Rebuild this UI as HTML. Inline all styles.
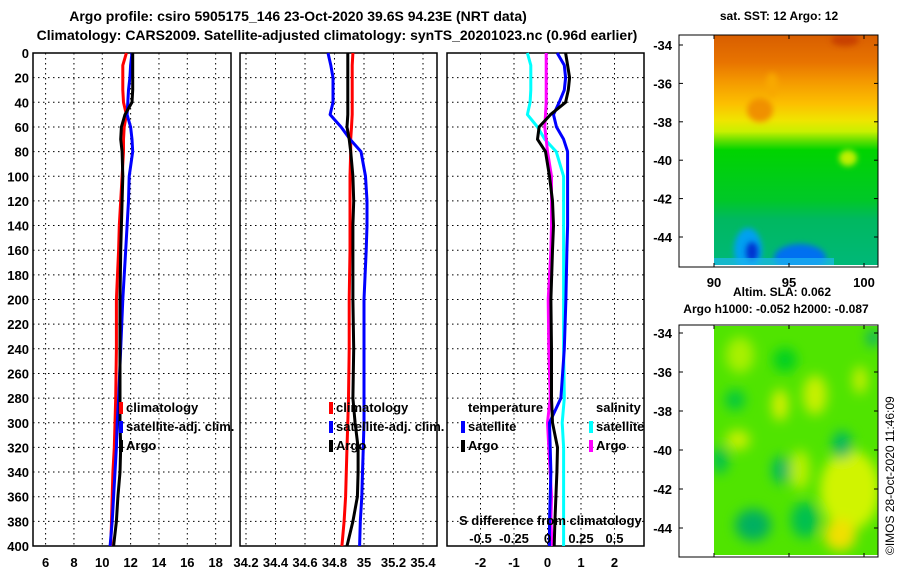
<!DOCTYPE html>
<html><head><meta charset="utf-8"><style>
html,body{margin:0;padding:0;background:#fff;}
svg{display:block;font-family:"Liberation Sans",sans-serif;font-weight:bold;}
</style></head><body>
<svg id="s" width="900" height="580" viewBox="0 0 900 580" xmlns="http://www.w3.org/2000/svg">
<defs>
<filter id="bl" x="-50%" y="-50%" width="200%" height="200%"><feGaussianBlur stdDeviation="6"/></filter>
<filter id="bl2" x="-50%" y="-50%" width="200%" height="200%"><feGaussianBlur stdDeviation="3"/></filter>
<clipPath id="c1"><rect x="714" y="35" width="164" height="230"/></clipPath>
<clipPath id="c2"><rect x="714" y="326" width="164" height="229"/></clipPath>
<linearGradient id="g1" x1="0" y1="0" x2="0" y2="1">
<stop offset="0" stop-color="#d85e00"/><stop offset="0.12" stop-color="#e87400"/>
<stop offset="0.2" stop-color="#f49800"/><stop offset="0.3" stop-color="#fcc000"/>
<stop offset="0.37" stop-color="#f0e400"/><stop offset="0.42" stop-color="#c8f000"/>
<stop offset="0.46" stop-color="#60e000"/><stop offset="0.5" stop-color="#00d400"/>
<stop offset="0.72" stop-color="#00c828"/><stop offset="0.8" stop-color="#00b860"/>
<stop offset="1" stop-color="#00b878"/></linearGradient>
</defs>
<text x="298" y="21" font-size="14" text-anchor="middle">Argo profile: csiro 5905175_146 23-Oct-2020 39.6S 94.23E (NRT data)</text>
<text x="337" y="40" font-size="14" text-anchor="middle">Climatology: CARS2009. Satellite-adjusted climatology: synTS_20201023.nc (0.96d earlier)</text>
<g id="panels"></g>
<!-- map 1 -->
<g>
<text x="779" y="20" font-size="12" text-anchor="middle">sat. SST: 12 Argo: 12</text>
<g clip-path="url(#c1)">
<rect x="714" y="35" width="164" height="230" fill="url(#g1)"/>
<ellipse cx="760" cy="110" rx="13" ry="12" fill="#f09000" filter="url(#bl2)"/>
<ellipse cx="772" cy="85" rx="6" ry="12" fill="#f8a800" filter="url(#bl2)"/>
<ellipse cx="845" cy="40" rx="14" ry="6" fill="#c84000" filter="url(#bl2)"/>
<ellipse cx="848" cy="158" rx="9" ry="8" fill="#c0f000" filter="url(#bl2)"/>
<ellipse cx="748" cy="250" rx="14" ry="22" fill="#00a0f0" filter="url(#bl2)"/>
<ellipse cx="800" cy="258" rx="26" ry="14" fill="#0070f0" filter="url(#bl2)"/>
<ellipse cx="752" cy="252" rx="6" ry="10" fill="#0030d0" filter="url(#bl2)"/>
<rect x="714" y="258" width="120" height="7" fill="#20b8f0" opacity="0.7"/>
</g>
<rect x="679" y="35" width="199" height="232" fill="none" stroke="#000"/>
</g>
<!-- map 2 -->
<g>
<text x="782" y="296" font-size="12" text-anchor="middle">Altim. SLA: 0.062</text>
<text x="776" y="313" font-size="12" text-anchor="middle">Argo h1000: -0.052 h2000: -0.087</text>
<g clip-path="url(#c2)">
<rect x="714" y="326" width="164" height="229" fill="#50e400"/>
<g filter="url(#bl)">
<ellipse cx="740" cy="355" rx="14" ry="18" fill="#a8f000"/>
<ellipse cx="780" cy="405" rx="8" ry="16" fill="#d8f000"/>
<ellipse cx="815" cy="395" rx="12" ry="20" fill="#c8f000"/>
<ellipse cx="860" cy="380" rx="7" ry="14" fill="#c8f000"/>
<ellipse cx="738" cy="440" rx="12" ry="10" fill="#c8f000"/>
<ellipse cx="850" cy="490" rx="30" ry="40" fill="#d0f400"/>
<ellipse cx="840" cy="535" rx="16" ry="16" fill="#f0e000"/>
<ellipse cx="800" cy="470" rx="10" ry="20" fill="#b8f000"/>
<ellipse cx="735" cy="400" rx="10" ry="10" fill="#00c840"/>
<ellipse cx="785" cy="360" rx="12" ry="12" fill="#00d020"/>
<ellipse cx="842" cy="445" rx="10" ry="14" fill="#00b860"/>
<ellipse cx="781" cy="470" rx="9" ry="14" fill="#00b860"/>
<ellipse cx="720" cy="460" rx="8" ry="14" fill="#00c050"/>
<ellipse cx="753" cy="525" rx="18" ry="16" fill="#00b060"/>
<ellipse cx="805" cy="520" rx="14" ry="18" fill="#00c050"/>
<ellipse cx="873" cy="338" rx="6" ry="8" fill="#00a880"/>
</g>
</g>
<rect x="679" y="325" width="199" height="232" fill="none" stroke="#000"/>
</g>
<text transform="translate(894,555) rotate(-90)" font-size="12" font-weight="normal">©IMOS 28-Oct-2020 11:46:09</text>
<g id="mapaxes"></g>
</svg>
<script>
const depths=[0,10,20,30,40,50,60,70,80,100,120,140,160,200,240,280,300,320,340,360,380,400];
const tClim=[11.7,11.45,11.45,11.45,11.5,11.7,11.55,11.5,11.5,11.4,11.3,11.2,11.15,11.0,11.0,10.95,10.9,10.85,10.75,10.7,10.65,10.6];
const tSat=[12.1,12.0,11.95,11.85,11.8,11.75,12.0,12.1,12.15,11.9,11.85,11.75,11.65,11.45,11.3,11.15,11.05,11.0,10.9,10.8,10.7,10.55];
const tArgo=[12.15,12.15,12.15,12.15,12.1,11.6,11.35,11.3,11.4,11.45,11.4,11.35,11.3,11.25,11.25,11.25,11.25,11.3,11.25,11.1,11.0,10.8];
const sClim=[34.925,34.92,34.92,34.92,34.92,34.92,34.915,34.91,34.91,34.905,34.905,34.905,34.905,34.9,34.9,34.895,34.89,34.885,34.88,34.875,34.865,34.85];
const sSat=[34.756,34.775,34.79,34.79,34.79,34.77,34.845,34.905,34.98,35.01,35.02,35.02,35.015,35.0,35.0,35.0,35.0,34.995,34.99,34.985,34.975,34.97];
const sArgo=[34.89,34.89,34.89,34.89,34.89,34.89,34.885,34.9,34.91,34.925,34.93,34.925,34.925,34.925,34.93,34.925,34.94,34.96,34.96,34.955,34.925,34.885];
const dTSat=[0.29,0.5,0.54,0.5,0.35,0.18,0.27,0.48,0.6,0.6,0.6,0.6,0.58,0.55,0.5,0.4,0.06,0.08,0.1,0.08,0.06,0.06];
const dTArgo=[0.54,0.6,0.66,0.62,0.54,0.09,-0.25,-0.3,-0.06,0.06,0.15,0.18,0.15,0.1,0.12,0.12,0.15,0.3,0.28,0.25,0.22,0.2];
const dSSat=[-0.15,-0.125,-0.125,-0.125,-0.13,-0.15,-0.075,-0.02,0.065,0.12,0.12,0.12,0.12,0.12,0.12,0.125,0.11,0.12,0.12,0.12,0.12,0.12];
const dSArgo=[-0.01,-0.01,-0.01,-0.01,-0.01,-0.015,-0.02,-0.01,0.0,0.03,0.03,0.03,0.025,0.005,0.01,0.02,0.0,0.01,0.02,0.03,0.025,0.035];
const depthTicks=[0,20,40,60,80,100,120,140,160,180,200,220,240,260,280,300,320,340,360,380,400];
const tTicks=[6,8,10,12,14,16,18];
const sTicks=["34.2","34.4","34.6","34.8","35","35.2","35.4"];
const dTicks=[-2,-1,0,1,2];
const dSTickLabels=["-0.5","-0.25","0","0.25","0.5"];
const dSTickVals=[-0.5,-0.25,0,0.25,0.5];
const latTicks=[-34,-36,-38,-40,-42,-44];
const lonTicks=[90,95,100];

const NS="http://www.w3.org/2000/svg";
const root=document.getElementById('panels');
function mk(tag,attrs,parent){const e=document.createElementNS(NS,tag);for(const k in attrs)e.setAttribute(k,attrs[k]);(parent||root).appendChild(e);return e;}
const Y0=53,Y1=546;
const yS=d=>Y0+d*(Y1-Y0)/400;
const xT=v=>45.6+(v-6)*14.17;
const xS=v=>246+(v-34.2)*147.5;
const xD=v=>547.5+v*33.5;
const xDS=v=>547.5+v*4*33.5;
const panels=[[33,231],[240,437],[447,644]];
panels.forEach((p,i)=>{
  const g=mk('g',{});
  
  
  depthTicks.forEach(d=>{
    const l=mk('line',{x1:p[0],x2:p[1],y1:yS(d),y2:yS(d),stroke:'#000','stroke-dasharray':'1.5 3.5'},g);
    
    
  });
  const xs=i==0?tTicks.map(xT):i==1?sTicks.map(v=>xS(+v)):dTicks.map(xD);
  xs.forEach(x=>{
    const l=mk('line',{x1:x,x2:x,y1:Y0,y2:Y1,stroke:'#000','stroke-dasharray':'1.5 3.5'},g);
    
    
  });
  const r=mk('rect',{x:p[0],y:Y0,width:p[1]-p[0],height:Y1-Y0,fill:'none',stroke:'#000','stroke-width':1.5},g);
  
  
  const labs=i==0?tTicks:i==1?sTicks:dTicks;
  labs.forEach((t,j)=>{
    const tx=mk('text',{x:xs[j],y:567,'font-size':13,'text-anchor':'middle'},g);
    tx.textContent=t;
    
    
  });
});
depthTicks.forEach(d=>{
  const t=mk('text',{x:29,y:yS(d)+5,'font-size':13,'text-anchor':'end'});
  t.textContent=d;
  
  
});
function line(vals,xf,color,name){
  const pts=vals.map((v,k)=>xf(v).toFixed(1)+','+yS(depths[k]).toFixed(1)).join(' ');
  const pl=mk('polyline',{points:pts,fill:'none',stroke:color,'stroke-width':3,'stroke-linejoin':'round'});
  
  
}
line(tClim,xT,'#ff0000','temp-climatology-line');
line(tSat,xT,'#0000ff','temp-satellite-line');
line(tArgo,xT,'#000000','temp-argo-line');
line(sClim,xS,'#ff0000','sal-climatology-line');
line(sSat,xS,'#0000ff','sal-satellite-line');
line(sArgo,xS,'#000000','sal-argo-line');
line(dSSat,xDS,'#00ffff','sdiff-satellite-line');
line(dSArgo,xDS,'#ff00ff','sdiff-argo-line');
line(dTSat,xD,'#0000ff','tdiff-satellite-line');
line(dTArgo,xD,'#000000','tdiff-argo-line');
function leg(x,y,color,label,name){
  const r=mk('rect',{x:x,y:y-10,width:4,height:12,fill:color});
  
  
  const t=mk('text',{x:x+7,y:y,'font-size':13});
  t.textContent=label;
  
  
}
leg(119,412,'#ff0000','climatology','legend-climatology');
leg(119,431,'#0000ff','satellite-adj. clim.','legend-satellite-adj');
leg(119,450,'#000000','Argo','legend-argo');
leg(329,412,'#ff0000','climatology','legend2-climatology');
leg(329,431,'#0000ff','satellite-adj. clim.','legend2-satellite-adj');
leg(329,450,'#000000','Argo','legend2-argo');
leg(461,431,'#0000ff','satellite','legend-t-satellite');
leg(461,450,'#000000','Argo','legend-t-argo');
leg(589,431,'#00ffff','satellite','legend-s-satellite');
leg(589,450,'#ff00ff','Argo','legend-s-argo');
[['temperature',468,412,'legend-temperature-header'],['salinity',596,412,'legend-salinity-header'],['S difference from climatology',459,525,'sdiff-axis-title']].forEach(a=>{
  const t=mk('text',{x:a[1],y:a[2],'font-size':13});
  t.textContent=a[0];
  
  
});
dSTickVals.forEach((v,j)=>{
  const t=mk('text',{x:xDS(v),y:543,'font-size':13,'text-anchor':'middle'});
  t.textContent=dSTickLabels[j];
  
  
});
const ma=document.getElementById('mapaxes');
[[35,267,45,37.85,250],[325,557,333,38.9,-1]].forEach((m,mi)=>{
  latTicks.forEach((lat,j)=>{
    const y=m[2]+j*(mi==0?38.4:39);
    const t=mk('text',{x:672,y:y+5,'font-size':13,'text-anchor':'end'},ma);
    t.textContent=lat;
    
    
    mk('line',{x1:679,x2:683,y1:y,y2:y,stroke:'#000'},ma);
    mk('line',{x1:874,x2:878,y1:y,y2:y,stroke:'#000'},ma);
  });
  lonTicks.forEach(lon=>{
    const x=714+(lon-90)*15;
    mk('line',{x1:x,x2:x,y1:m[1],y2:m[1]-4,stroke:'#000'},ma);
    mk('line',{x1:x,x2:x,y1:m[0],y2:m[0]+4,stroke:'#000'},ma);
    if(mi==0){
      const t=mk('text',{x:x,y:287,'font-size':13,'text-anchor':'middle'},ma);
      t.textContent=lon;
      
      
    }
  });
});
</script>
</body></html>
